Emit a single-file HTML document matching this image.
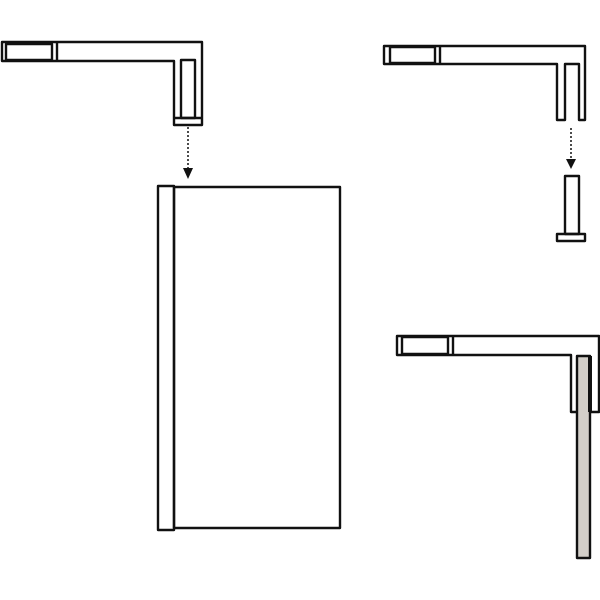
<!DOCTYPE html>
<html><head><meta charset="utf-8"><style>html,body{margin:0;padding:0;background:#fff}svg{display:block}</style></head>
<body>
<svg width="600" height="600" viewBox="0 0 600 600" xmlns="http://www.w3.org/2000/svg" fill="none" stroke="#111" stroke-width="2.4" stroke-linejoin="round">
<!-- top-left bracket -->
<path d="M2 42 H202 V125 H174 V61 H2 Z"/>
<rect x="6" y="44" width="46" height="16"/>
<line x1="57" y1="42" x2="57" y2="61"/>
<rect x="181" y="60" width="14" height="58"/>
<line x1="174" y1="118" x2="202" y2="118"/>
<line x1="188" y1="127" x2="188" y2="168" stroke-width="1.5" stroke-dasharray="2,2"/>
<polygon points="183,168 193,168 188,179" fill="#111" stroke="none"/>
<!-- panel -->
<rect x="158" y="186" width="16" height="344"/>
<rect x="174" y="187" width="166" height="341"/>
<!-- top-right bracket -->
<path d="M384 46 H585 V120 H579 V64 H565 V120 H557 V64 H384 Z"/>
<rect x="390" y="47" width="45" height="16"/>
<line x1="440" y1="46" x2="440" y2="64"/>
<line x1="571" y1="128" x2="571" y2="159" stroke-width="1.5" stroke-dasharray="2,2"/>
<polygon points="566,159 576,159 571,169" fill="#111" stroke="none"/>
<rect x="565" y="176" width="14" height="58"/>
<rect x="557" y="234" width="28" height="7"/>
<!-- bottom-right bracket -->
<path d="M397 336 H599 V412 H571 V355 H397 Z"/>
<rect x="402" y="337" width="46" height="17"/>
<line x1="453" y1="336" x2="453" y2="355"/>
<rect x="577" y="356" width="13" height="202" fill="#d3cfc9"/>
<line x1="590" y1="356" x2="590" y2="412" stroke-width="4"/>
</svg>
</body></html>
